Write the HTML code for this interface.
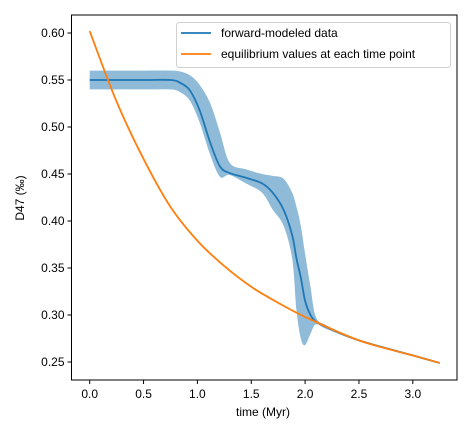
<!DOCTYPE html>
<html><head><meta charset="utf-8"><style>
body{margin:0;background:#fff;}
svg{display:block;font-family:"Liberation Sans",sans-serif;}
</style></head><body>
<svg id="chart" width="472" height="438">
<g id="plot"></g>
<g id="axes"></g>
</svg>
<script>
const tB=[0,0.5,0.75,0.84,0.93,1.02,1.12,1.21,1.3,1.45,1.6,1.7,1.8,1.88,1.92,1.96,2.0,2.05,2.1,2.2,2.5,3.0,3.25];
const meanB=[.55,.55,.55,.547,.539,.518,.483,.458,.451,.446,.44,.43,.412,.385,.36,.34,.315,.300,.293,.287,.273,.257,.249];
const lowB=[.54,.54,.54,.537,.528,.505,.47,.447,.449,.44,.43,.412,.395,.36,.305,.275,.268,.28,.29,.285,.272,.256,.248];
const upB=[.56,.56,.56,.559,.555,.545,.525,.494,.462,.455,.45,.448,.445,.43,.415,.395,.365,.33,.298,.289,.274,.258,.25];
const tO=[0,0.25,0.5,0.75,1,1.25,1.5,1.75,2,2.5,3,3.25];
const eqO=[.602,.527,.466,.415,.379,.352,.330,.313,.298,.273,.257,.249];
const xTicks=[0,0.5,1.0,1.5,2.0,2.5,3.0];
const xTickLabels=["0.0","0.5","1.0","1.5","2.0","2.5","3.0"];
const yTicks=[0.25,0.30,0.35,0.40,0.45,0.50,0.55,0.60];
const yTickLabels=["0.25","0.30","0.35","0.40","0.45","0.50","0.55","0.60"];

const L=71.5,R=457,T=15,B=380;
const X=t=>89.7+t*107.7;
const Y=v=>33+(0.60-v)*940;
const NS="http://www.w3.org/2000/svg";
function mk(tag,attrs,parent){const e=document.createElementNS(NS,tag);for(const k in attrs)e.setAttribute(k,attrs[k]);parent.appendChild(e);return e;}
function smooth(pts){
  let d="M"+pts[0][0]+","+pts[0][1];
  for(let i=0;i<pts.length-1;i++){
    const p0=pts[Math.max(0,i-1)],p1=pts[i],p2=pts[i+1],p3=pts[Math.min(pts.length-1,i+2)];
    const c1=[p1[0]+(p2[0]-p0[0])/6,p1[1]+(p2[1]-p0[1])/6];
    const c2=[p2[0]-(p3[0]-p1[0])/6,p2[1]-(p3[1]-p1[1])/6];
    d+=" C"+c1[0]+","+c1[1]+" "+c2[0]+","+c2[1]+" "+p2[0]+","+p2[1];
  }
  return d;
}
const plot=document.getElementById('plot');
const axes=document.getElementById('axes');
const upPts=tB.map((t,i)=>[X(t),Y(upB[i])]);
const lowPts=tB.map((t,i)=>[X(t),Y(lowB[i])]).reverse();
let dBand=smooth(upPts)+" L"+lowPts[0][0]+","+lowPts[0][1]+smooth(lowPts).replace(/^M[^C]*/," ")+" Z";
const band=mk('path',{d:dBand,fill:'#1f77b4','fill-opacity':0.5,stroke:'none'},plot);


const ml=mk('path',{d:smooth(tB.map((t,i)=>[X(t),Y(meanB[i])])),fill:'none',stroke:'#1f77b4','stroke-width':1.8},plot);


const ol=mk('path',{d:smooth(tO.map((t,i)=>[X(t),Y(eqO[i])])),fill:'none',stroke:'#ff7f0e','stroke-width':1.8},plot);


const fr=mk('rect',{x:L,y:T,width:R-L,height:B-T,fill:'none',stroke:'#000','stroke-width':1},axes);


xTicks.forEach((t,i)=>{
  const tk=mk('line',{x1:X(t),x2:X(t),y1:B,y2:B+4,stroke:'#000'},axes);
  
  
  const lb=mk('text',{x:X(t),y:B+18,'text-anchor':'middle','font-size':12},axes);
  lb.textContent=xTickLabels[i];
  
  
});
yTicks.forEach((v,i)=>{
  const tk=mk('line',{x1:L-4,x2:L,y1:Y(v),y2:Y(v),stroke:'#000'},axes);
  
  
  const lb=mk('text',{x:L-7,y:Y(v)+4,'text-anchor':'end','font-size':12},axes);
  lb.textContent=yTickLabels[i];
  
  
});
</script>
<svg style="position:absolute;left:0;top:0" width="472" height="438">
<text x="263" y="416" text-anchor="middle" font-size="12" font-family="Liberation Sans, sans-serif">time (Myr)</text>
<text transform="translate(24,198) rotate(-90)" text-anchor="middle" font-size="12" font-family="Liberation Sans, sans-serif">D47 (‰)</text>
<g>
<rect x="176.5" y="22.5" width="274" height="45" rx="3" fill="#fff" fill-opacity="0.8" stroke="#d0d0d0"/>
<line x1="181" x2="211" y1="33" y2="33" stroke="#1f77b4" stroke-width="1.8"/>
<text x="221" y="37" font-size="12" font-family="Liberation Sans, sans-serif">forward-modeled data</text>
<line x1="181" x2="211" y1="54" y2="54" stroke="#ff7f0e" stroke-width="1.8"/>
<text x="221" y="58" font-size="12" font-family="Liberation Sans, sans-serif">equilibrium values at each time point</text>
</g>
</svg>
</body></html>
